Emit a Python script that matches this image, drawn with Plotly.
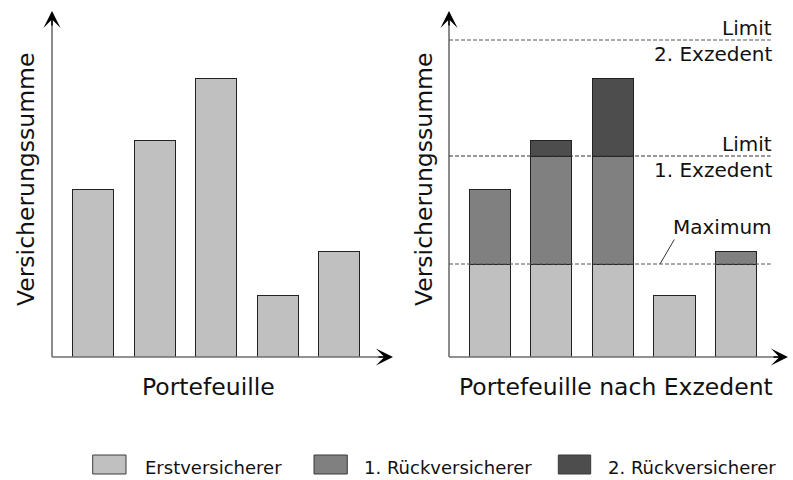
import plotly.graph_objects as go

# ---------------- data ----------------
categories = ["Risiko 1", "Risiko 2", "Risiko 3", "Risiko 4", "Risiko 5"]
portfolio_total = [168, 217, 279, 62, 106]
erstversicherer = [93, 93, 93, 62, 93]
rueckversicherer_1 = [75, 108, 108, 0, 13]
rueckversicherer_2 = [0, 16, 78, 0, 0]
maximum = 93
limit_1 = 201
limit_2 = 317
series_names = ["Erstversicherer", "1. Rückversicherer", "2. Rückversicherer"]
x_titles = ["Portefeuille", "Portefeuille nach Exzedent"]
y_title = "Versicherungssumme"
limit_labels = [("Limit", "2. Exzedent"), ("Limit", "1. Exzedent")]
maximum_label = "Maximum"

# ---------------- style ----------------
W, H = 793, 480
TOP, BOTTOM = 11, 357          # pixel rows of plot area
FONT = "DejaVu Sans"
colors = ["#c0c0c0", "#808080", "#4d4d4d"]
edge = "#222222"
axis_col = "#6e6e6e"
x_pos = list(range(len(categories)))


def py(p):
    """pixel row -> paper y"""
    return (BOTTOM - p) / (BOTTOM - TOP)


def px(p):
    return p / W


fig = go.Figure()

# left panel
fig.add_trace(go.Bar(x=x_pos, y=portfolio_total, name=series_names[0], xaxis="x", yaxis="y",
                     width=0.667, marker=dict(color=colors[0], line=dict(color=edge, width=1)),
                     showlegend=False, hovertext=categories))

# right panel (stacked)
for vals, name, col in zip([erstversicherer, rueckversicherer_1, rueckversicherer_2], series_names, colors):
    fig.add_trace(go.Bar(x=x_pos, y=vals, name=name, xaxis="x2", yaxis="y2", width=0.666,
                         marker=dict(color=col, line=dict(color=edge, width=1)),
                         showlegend=False, hovertext=categories))

yr = [0, BOTTOM - TOP]
fig.update_layout(
    width=W, height=H,
    margin=dict(l=0, r=0, t=TOP, b=H - BOTTOM),
    paper_bgcolor="white", plot_bgcolor="white",
    barmode="stack", bargap=0,
    font=dict(family=FONT, color="#111111"),
    xaxis=dict(domain=[px(52), px(393)], range=[-0.667, 4.878], visible=False, fixedrange=True),
    yaxis=dict(domain=[0, 1], range=yr, visible=False, fixedrange=True),
    xaxis2=dict(domain=[px(449), px(788)], range=[-0.661, 4.843], visible=False, fixedrange=True),
    yaxis2=dict(domain=[0, 1], range=yr, visible=False, fixedrange=True, anchor="x2"),
)

shapes = []
annotations = []

# axes with arrows
for xa, ya in [("x", "y"), ("x2", "y2")]:
    shapes.append(dict(type="line", xref=f"{xa} domain", yref=f"{ya} domain",
                       x0=0, x1=0.98, y0=0, y1=0, line=dict(color=axis_col, width=1.6), layer="above"))
    shapes.append(dict(type="line", xref=f"{xa} domain", yref=f"{ya} domain",
                       x0=0, x1=0, y0=0, y1=0.975, line=dict(color=axis_col, width=1.6), layer="above"))
    annotations.append(dict(xref=f"{xa} domain", yref=f"{ya} domain", x=1, y=0, text="",
                            showarrow=True, arrowhead=3, arrowsize=1.9, arrowwidth=1.5,
                            arrowcolor="black", ax=-16, ay=0, standoff=0))
    annotations.append(dict(xref=f"{xa} domain", yref=f"{ya} domain", x=0, y=1, text="",
                            showarrow=True, arrowhead=3, arrowsize=1.9, arrowwidth=1.5,
                            arrowcolor="black", ax=0, ay=16, standoff=0))

# dashed reference lines (right panel)
line_end = (770.7 - 449) / (788 - 449)
for val, col in [(maximum, "#555555"), (limit_1, "#333333"), (limit_2, "#555555")]:
    shapes.append(dict(type="line", xref="x2 domain", yref="y2", x0=0, x1=line_end, y0=val, y1=val,
                       line=dict(color=col, width=1, dash="4px,2px"), layer="above"))

# pointer for "Maximum"
shapes.append(dict(type="line", xref="x2", yref="y2", x0=2.765, x1=2.997, y0=maximum, y1=maximum + 24.5,
                   line=dict(color="#333333", width=1), layer="above"))

label_x = (774 - 449) / (788 - 449)
for (top_txt, bot_txt), val in zip(limit_labels, [limit_2, limit_1]):
    annotations.append(dict(xref="x2 domain", yref="y2", x=label_x, y=val, yshift=12, text=top_txt,
                            showarrow=False, xanchor="right", yanchor="middle", font=dict(size=20)))
    annotations.append(dict(xref="x2 domain", yref="y2", x=label_x, y=val, yshift=-14, text=bot_txt,
                            showarrow=False, xanchor="right", yanchor="middle", font=dict(size=20)))
annotations.append(dict(xref="x2 domain", yref="y2", x=label_x, y=maximum, yshift=37, text=maximum_label,
                        showarrow=False, xanchor="right", yanchor="middle", font=dict(size=20)))

# axis titles
annotations.append(dict(xref="paper", yref="paper", x=px(208), y=py(387), text=x_titles[0],
                        showarrow=False, xanchor="center", yanchor="middle", font=dict(size=23.5)))
annotations.append(dict(xref="paper", yref="paper", x=px(615.5), y=py(387), text=x_titles[1],
                        showarrow=False, xanchor="center", yanchor="middle", font=dict(size=23.5)))
for xc in [26, 424]:
    annotations.append(dict(xref="paper", yref="paper", x=px(xc), y=py(180), text=y_title, textangle=-90,
                            showarrow=False, xanchor="center", yanchor="middle", font=dict(size=23.5)))

# legend (manual swatches)
legend_boxes = [(92.7, 126), (314, 347.3), (558.3, 590.7)]
legend_text_x = [143.3, 361.7, 606]
for (x0, x1), tx, name, col in zip(legend_boxes, legend_text_x, series_names, colors):
    shapes.append(dict(type="rect", xref="paper", yref="paper", x0=px(x0), x1=px(x1), y0=py(474), y1=py(455),
                       fillcolor=col, line=dict(color="#3a3a3a", width=1)))
    annotations.append(dict(xref="paper", yref="paper", x=px(tx), y=py(467), text=name, showarrow=False,
                            xanchor="left", yanchor="middle", font=dict(size=18)))

fig.update_layout(shapes=shapes, annotations=annotations)

fig.write_html("out.html", config={"displayModeBar": False, "staticPlot": True},
               post_script="document.body.style.margin='0';")
